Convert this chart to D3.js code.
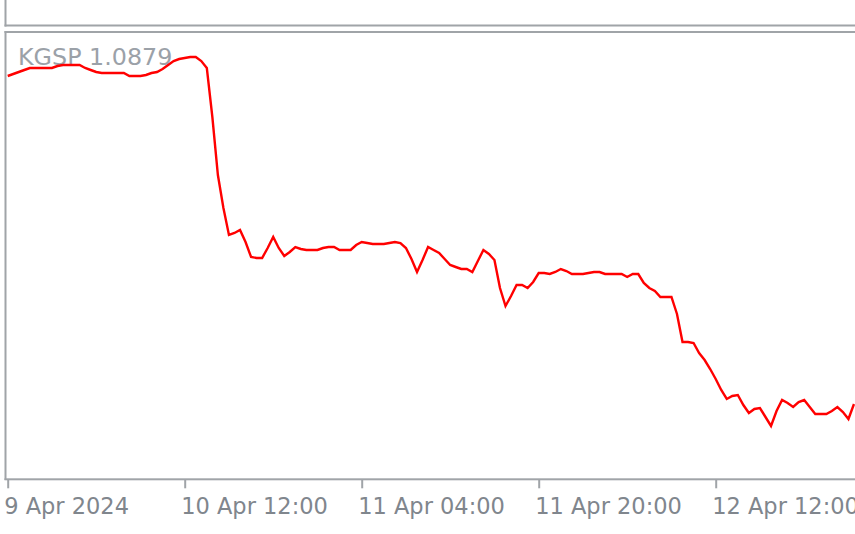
<!DOCTYPE html>
<html>
<head>
<meta charset="utf-8">
<script src="https://cdn.jsdelivr.net/npm/d3@7"></script>
<style>
html,body{margin:0;padding:0;background:#fff;overflow:hidden;}
svg{display:block;}
</style>
</head>
<body>
<svg id="chart" width="855" height="534"></svg>
<script>
// ---- data ----
const symbol = "KGSP";
const startTime = "2024-04-09T20:00:00";
const barMinutes = 30;
const values = [
1.1207,1.1209,1.1211,1.1213,1.1215,1.1215,1.1215,1.1215,1.1215,1.1217,
1.1218,1.1218,1.1218,1.1218,1.1215,1.1213,1.1211,1.1210,1.1210,1.1210,
1.1210,1.1210,1.1207,1.1207,1.1207,1.1208,1.1210,1.1211,1.1214,1.1218,
1.1222,1.1224,1.1225,1.1226,1.1226,1.1222,1.1215,1.1166,1.1108,1.1075,
1.1048,1.1050,1.1053,1.1041,1.1026,1.1025,1.1025,1.1035,1.1046,1.1035,
1.1027,1.1031,1.1036,1.1034,1.1033,1.1033,1.1033,1.1035,1.1036,1.1036,
1.1033,1.1033,1.1033,1.1038,1.1041,1.1040,1.1039,1.1039,1.1039,1.1040,
1.1041,1.1040,1.1035,1.1024,1.1011,1.1023,1.1036,1.1033,1.1030,1.1024,
1.1018,1.1016,1.1014,1.1014,1.1011,1.1022,1.1033,1.1029,1.1023,1.0995,
1.0977,1.0987,1.0998,1.0998,1.0995,1.1001,1.1010,1.1010,1.1009,1.1011,
1.1014,1.1012,1.1009,1.1009,1.1009,1.1010,1.1011,1.1011,1.1009,1.1009,
1.1009,1.1009,1.1006,1.1009,1.1009,1.1000,1.0995,1.0992,1.0986,1.0986,
1.0986,1.0969,1.0941,1.0941,1.0940,1.0930,1.0923,1.0914,1.0904,1.0893,
1.0884,1.0887,1.0888,1.0878,1.0870,1.0874,1.0875,1.0866,1.0857,1.0872,
1.0883,1.0880,1.0876,1.0881,1.0883,1.0876,1.0869,1.0869,1.0869,1.0872,
1.0876,1.0871,1.0864,1.0879
];
const tickTimes = ["2024-04-09T20:00:00","2024-04-10T12:00:00","2024-04-11T04:00:00","2024-04-11T20:00:00","2024-04-12T12:00:00"];
const tickLabels = ["9 Apr 2024","10 Apr 12:00","11 Apr 04:00","11 Apr 20:00","12 Apr 12:00"];
const lastValue = "1.0879";

// ---- setup ----
const t0 = new Date(startTime);
const data = values.map((v,i)=>({t:new Date(t0.getTime()+i*barMinutes*60000), v}));
const svg = d3.select("#chart");
const W = 855, H = 534;
const border = "#a0a4a8";

const pxPerBar = 177/32;
const x = d3.scaleTime()
  .domain([t0, data[data.length-1].t])
  .range([7.7, 7.7 + (data.length-1)*pxPerBar]);
const y = d3.scaleLinear().domain([1.0805, 1.1250]).range([478, 33]);

// panels
svg.append("rect").attr("x",4.5).attr("y",0).attr("width",2).attr("height",26.5).attr("fill",border);
svg.append("rect").attr("x",4.5).attr("y",24.5).attr("width",W).attr("height",2).attr("fill",border);
svg.append("rect").attr("x",4.5).attr("y",31).attr("width",W).attr("height",2).attr("fill",border);
svg.append("rect").attr("x",4.5).attr("y",31).attr("width",2).attr("height",449).attr("fill",border);

// label (drawn under the line)
svg.append("text")
  .attr("x",18).attr("y",65)
  .attr("font-family","DejaVu Sans, sans-serif")
  .attr("font-size",23.8)
  .attr("fill","#9ba1a8")
  .text(symbol + " " + lastValue);

// line
svg.append("clipPath").attr("id","pc").append("rect")
  .attr("x",6.5).attr("y",33).attr("width",W).attr("height",445);
svg.append("path")
  .datum(data)
  .attr("clip-path","url(#pc)")
  .attr("fill","none")
  .attr("stroke","#ff0000")
  .attr("stroke-width",2.4)
  .attr("stroke-linejoin","miter")
  .attr("d", d3.line().x(d=>x(d.t)).y(d=>y(d.v)));

// x axis
const ticks = tickTimes.map(s=>new Date(s));
const axis = d3.axisBottom(x)
  .tickValues(ticks)
  .tickSize(9)
  .tickPadding(0)
  .tickFormat((d,i)=>tickLabels[i]);
const g = svg.append("g").attr("transform","translate(0,479.3)").call(axis);
g.select(".domain").remove();
g.append("rect").attr("x",4.5).attr("y",-1).attr("width",W).attr("height",2).attr("fill",border);
g.selectAll(".tick line").attr("stroke",border).attr("stroke-width",2);
g.selectAll(".tick text")
  .attr("text-anchor","start")
  .attr("x",-4)
  .attr("y",35)
  .attr("dy",null)
  .attr("font-family","DejaVu Sans, sans-serif")
  .attr("font-size",22.5)
  .attr("fill","#80868d");
</script>
</body>
</html>
